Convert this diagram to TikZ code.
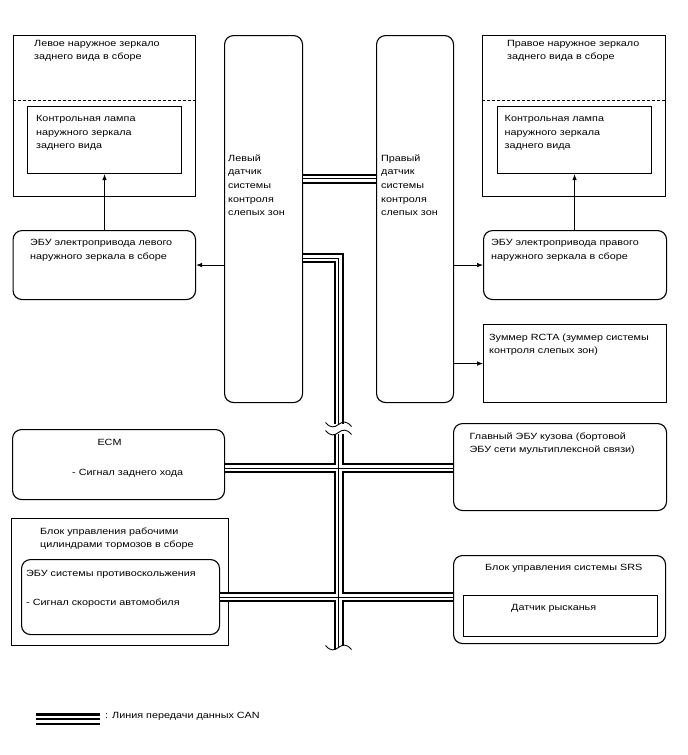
\documentclass[tikz,border=0pt]{standalone}
\usepackage{fontspec}
\setmainfont[FakeStretch=1.2]{Liberation Sans}
\usetikzlibrary{arrows.meta}
\begin{document}
\begin{tikzpicture}[x=1pt,y=-1pt,
  box/.style={draw, line width=1.1pt, inner sep=0pt, anchor=north west},
  rbox/.style={box, rounded corners=9pt},
  dashline/.style={line width=1pt, dash pattern=on 3pt off 2pt},
  lbl/.style={anchor=north west, align=left, inner sep=0pt, font=\fontsize{9}{13.4}\selectfont},
  arr/.style={line width=0.7pt, -{Latex[length=6pt,width=4.5pt]}},
  canout/.style={line width=10pt},
  canmid/.style={line width=6pt, white},
  cancore/.style={line width=1pt}
]
\useasboundingbox (0,0) rectangle (688,755);
\fill[white] (0,0) rectangle (688,755);

% boxes
\node[box, minimum width=182.5pt, minimum height=161pt] (lm) at (12.5,35) {};
\node[box, minimum width=154pt, minimum height=67pt] (lmi) at (27,106) {};
\node[rbox, minimum width=78pt, minimum height=367pt] (ls) at (224,35) {};
\node[rbox, minimum width=77pt, minimum height=367pt] (rs) at (376,35) {};
\node[box, minimum width=183pt, minimum height=161pt] (rm) at (482,35) {};
\node[box, minimum width=154pt, minimum height=67pt] (rmi) at (497,106) {};
\node[rbox, minimum width=182.5pt, minimum height=69pt] (lecu) at (12.5,230) {};
\node[rbox, minimum width=183pt, minimum height=69pt] (recu) at (483,230) {};
\node[box, minimum width=183pt, minimum height=78pt] (buz) at (483,324) {};
\node[rbox, minimum width=212pt, minimum height=70pt] (ecm) at (12,429) {};
\node[rbox, minimum width=213pt, minimum height=87pt] (mecu) at (453,423) {};
\node[box, minimum width=217pt, minimum height=127pt] (brk) at (11,518) {};
\node[rbox, minimum width=198pt, minimum height=75pt] (abs) at (21,559) {};
\node[rbox, minimum width=212pt, minimum height=88pt] (srs) at (453,555) {};
\node[box, minimum width=194pt, minimum height=41pt] (yaw) at (463,595) {};

\draw[dashline] ([yshift=-65.5pt]lm.north west) -- ([yshift=-65.5pt]lm.north east);
\draw[dashline] ([yshift=-65.5pt]rm.north west) -- ([yshift=-65.5pt]rm.north east);

% texts
\node[lbl] (lmt) at (34,40) {Левое наружное зеркало\\заднего вида в сборе};
\node[lbl] (lmit) at (36,115.5) {Контрольная лампа\\наружного зеркала\\заднего вида};
\node[lbl, font=\fontsize{9}{13.6}\selectfont] (lst) at (228,154.5) {Левый\\датчик\\системы\\контроля\\слепых зон};
\node[lbl] (lecut) at (30,239.5) {ЭБУ электропривода левого\\наружного зеркала в сборе};
\node[lbl] (rmt) at (507,40) {Правое наружное зеркало\\заднего вида в сборе};
\node[lbl] (rmit) at (504.5,115.5) {Контрольная лампа\\наружного зеркала\\заднего вида};
\node[lbl, font=\fontsize{9}{13.6}\selectfont] (rst) at (381,154.5) {Правый\\датчик\\системы\\контроля\\слепых зон};
\node[lbl] (recut) at (491,239.5) {ЭБУ электропривода правого\\наружного зеркала в сборе};
\node[lbl] (buzt) at (489,333.5) {Зуммер RCTA (зуммер системы\\контроля слепых зон)};
\node[lbl, anchor=north] (ecmt) at (109.5,439.5) {ECM};
\node[lbl] (ecms) at (72,469) {- Сигнал заднего хода};
\node[lbl] (mecut) at (469.5,432.5) {Главный ЭБУ кузова (бортовой\\ЭБУ сети мультиплексной связи)};
\node[lbl] (brkt) at (40,527.5) {Блок управления рабочими\\цилиндрами тормозов в сборе};
\node[lbl] (abst) at (26,570.5) {ЭБУ системы противоскольжения};
\node[lbl] (abss) at (26,599) {- Сигнал скорости автомобиля};
\node[lbl] (srst) at (485,564) {Блок управления системы SRS};
\node[lbl] (yawt) at (511,604) {Датчик рысканья};
\node[lbl] (legt) at (105,712.5) {: Линия передачи данных CAN};

% arrows
\draw[arr] (lecu.north -| lmi.south) -- (lmi.south);
\draw[arr] (recu.north -| rmi.south) -- (rmi.south);
\draw[arr] (ls.west |- lecu.east) -- (lecu.east);
\draw[arr] (rs.east |- recu.west) -- (recu.west);
\draw[arr] (rs.east |- buz.west) -- (buz.west);

% CAN bus coordinates
\coordinate (canA) at (0,178.5);
\coordinate (canB) at (0,258);
\coordinate (busx) at (338.5,0);
\coordinate (busend) at (0,650);
\coordinate (canC) at (0,468);
\coordinate (canD) at (0,597);
\newcommand{\canroutes}{(ls.east |- canA) -- (rs.west |- canA)
  (ls.east |- canB) -- (busx |- canB) -- (busx |- busend)
  (ecm.east |- canC) -- (mecu.west |- canC)
  (abs.east |- canD) -- (srs.west |- canD)}
\draw[canout] \canroutes;
\draw[canmid] \canroutes;
\draw[cancore] \canroutes;

% break marks
\coordinate (brA) at (338.5,424.5);
\coordinate (brB) at (338.5,432.5);
\fill[white] ([xshift=-8pt,yshift=1pt]brA) rectangle ([xshift=8pt,yshift=-1pt]brB);
\draw[line width=0.9pt] ([xshift=-13pt,yshift=2pt]brA) .. controls ([xshift=-8pt,yshift=-4pt]brA) and ([xshift=-4pt,yshift=-3pt]brA) .. (brA) .. controls ([xshift=4pt,yshift=3pt]brA) and ([xshift=8pt,yshift=4pt]brA) .. ([xshift=13pt,yshift=-2pt]brA);
\draw[line width=0.9pt] ([xshift=-13pt,yshift=2pt]brB) .. controls ([xshift=-8pt,yshift=-4pt]brB) and ([xshift=-4pt,yshift=-3pt]brB) .. (brB) .. controls ([xshift=4pt,yshift=3pt]brB) and ([xshift=8pt,yshift=4pt]brB) .. ([xshift=13pt,yshift=-2pt]brB);
\coordinate (brC) at (338.5,647.5);
\fill[white] ([xshift=-13pt,yshift=2pt]brC) .. controls ([xshift=-8pt,yshift=-4pt]brC) and ([xshift=-4pt,yshift=-3pt]brC) .. (brC) .. controls ([xshift=4pt,yshift=3pt]brC) and ([xshift=8pt,yshift=4pt]brC) .. ([xshift=13pt,yshift=-2pt]brC) -- ([xshift=13pt,yshift=-8pt]brC) -- ([xshift=-13pt,yshift=-8pt]brC) -- cycle;
\draw[line width=0.9pt] ([xshift=-13pt,yshift=2pt]brC) .. controls ([xshift=-8pt,yshift=-4pt]brC) and ([xshift=-4pt,yshift=-3pt]brC) .. (brC) .. controls ([xshift=4pt,yshift=3pt]brC) and ([xshift=8pt,yshift=4pt]brC) .. ([xshift=13pt,yshift=-2pt]brC);

% legend
\coordinate (legA) at (36,719);
\coordinate (legB) at (100,719);
\draw[line width=12pt] (legA) -- (legB);
\draw[line width=7pt, white] (legA) -- (legB);
\draw[line width=1.3pt] (legA) -- (legB);
\end{tikzpicture}
\end{document}
